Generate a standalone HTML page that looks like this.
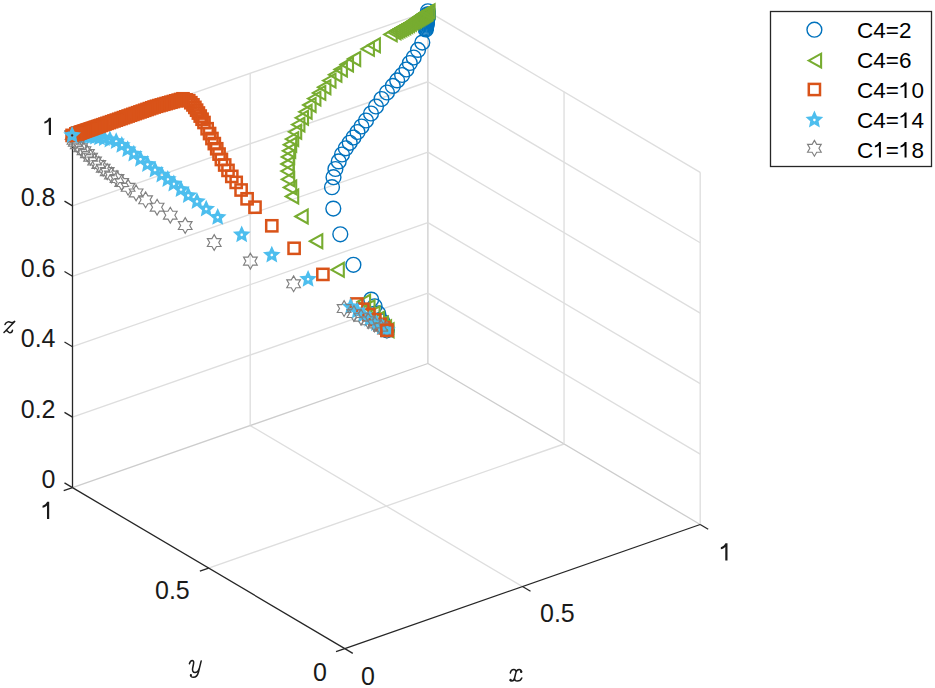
<!DOCTYPE html>
<html><head><meta charset="utf-8"><style>
html,body{margin:0;padding:0;background:#fff;}
body{width:935px;height:688px;overflow:hidden;}
svg{display:block;}
.g{stroke:#dedede;stroke-width:1.35;fill:none;}
.g2{stroke:#cdcdcd;stroke-width:1.3;fill:none;}
.a{stroke:#262626;stroke-width:1.3;fill:none;}
.t{font-family:"Liberation Sans",sans-serif;font-size:25px;fill:#1a1a1a;}
.l{font-family:"Liberation Sans",sans-serif;font-size:22.5px;fill:#000;}
.one{fill:#1a1a1a;}
.lone{fill:#000;}
.cm{fill:none;stroke:#1a1a1a;stroke-width:1.5;stroke-linecap:round;stroke-linejoin:round;}
.m{font-family:"Liberation Serif",serif;font-style:italic;font-size:26px;fill:#1a1a1a;}
</style></head><body>
<svg width="935" height="688" viewBox="0 0 935 688">
<line x1="522.5" y1="586.55" x2="250.2" y2="425.55" class="g"/>
<line x1="208.65" y1="568.1" x2="564.05" y2="444" class="g"/>
<line x1="700.2" y1="524.5" x2="427.9" y2="363.5" class="g2"/>
<line x1="72.5" y1="487.6" x2="427.9" y2="363.5" class="g2"/>
<line x1="427.9" y1="363.5" x2="427.9" y2="11.3" class="g2"/>
<line x1="72.5" y1="417.16" x2="427.9" y2="293.06" class="g"/>
<line x1="72.5" y1="346.72" x2="427.9" y2="222.62" class="g"/>
<line x1="72.5" y1="276.28" x2="427.9" y2="152.18" class="g"/>
<line x1="72.5" y1="205.84" x2="427.9" y2="81.74" class="g"/>
<line x1="72.5" y1="135.4" x2="427.9" y2="11.3" class="g"/>
<line x1="250.2" y1="425.55" x2="250.2" y2="73.35" class="g"/>
<line x1="700.2" y1="454.06" x2="427.9" y2="293.06" class="g"/>
<line x1="700.2" y1="383.62" x2="427.9" y2="222.62" class="g"/>
<line x1="700.2" y1="313.18" x2="427.9" y2="152.18" class="g"/>
<line x1="700.2" y1="242.74" x2="427.9" y2="81.74" class="g"/>
<line x1="700.2" y1="172.3" x2="427.9" y2="11.3" class="g"/>
<line x1="700.2" y1="524.5" x2="700.2" y2="172.3" class="g"/>
<line x1="564.05" y1="444" x2="564.05" y2="91.8" class="g"/>
<line x1="72.5" y1="487.6" x2="344.8" y2="648.6" class="a"/>
<line x1="344.8" y1="648.6" x2="700.2" y2="524.5" class="a"/>
<line x1="72.5" y1="487.6" x2="72.5" y2="135.4" class="a"/>
<line x1="344.8" y1="648.6" x2="352.81" y2="653.33" class="a"/>
<line x1="522.5" y1="586.55" x2="530.51" y2="591.28" class="a"/>
<line x1="700.2" y1="524.5" x2="708.21" y2="529.23" class="a"/>
<line x1="344.8" y1="648.6" x2="336.02" y2="651.67" class="a"/>
<line x1="208.65" y1="568.1" x2="199.87" y2="571.17" class="a"/>
<line x1="72.5" y1="487.6" x2="63.72" y2="490.67" class="a"/>
<line x1="72.5" y1="487.6" x2="64.49" y2="482.87" class="a"/>
<line x1="72.5" y1="417.16" x2="64.49" y2="412.43" class="a"/>
<line x1="72.5" y1="346.72" x2="64.49" y2="341.99" class="a"/>
<line x1="72.5" y1="276.28" x2="64.49" y2="271.55" class="a"/>
<line x1="72.5" y1="205.84" x2="64.49" y2="201.11" class="a"/>
<line x1="72.5" y1="135.4" x2="64.49" y2="130.67" class="a"/>
<text x="55.5" y="488.1" class="t" text-anchor="end">0</text>
<text x="55.5" y="417.66" class="t" text-anchor="end">0.2</text>
<text x="55.5" y="347.22" class="t" text-anchor="end">0.4</text>
<text x="55.5" y="276.78" class="t" text-anchor="end">0.6</text>
<text x="55.5" y="206.34" class="t" text-anchor="end">0.8</text>
<path class="one" transform="translate(42.5,134.9) scale(0.01221,-0.01221)" d="M515,0L515,1110C420,1020 290,960 150,925L150,1085C330,1140 450,1250 530,1409L696,1409L696,0Z"/>
<path class="one" transform="translate(40.7,519) scale(0.01221,-0.01221)" d="M515,0L515,1110C420,1020 290,960 150,925L150,1085C330,1140 450,1250 530,1409L696,1409L696,0Z"/>
<text x="155" y="599.4" class="t" text-anchor="start">0.5</text>
<text x="313" y="681.2" class="t" text-anchor="start">0</text>
<text x="361" y="684.5" class="t" text-anchor="start">0</text>
<text x="540" y="622.4" class="t" text-anchor="start">0.5</text>
<path class="one" transform="translate(719,560.5) scale(0.01221,-0.01221)" d="M515,0L515,1110C420,1020 290,960 150,925L150,1085C330,1140 450,1250 530,1409L696,1409L696,0Z"/>
<path class="cm" d="M189.4,663.7 C190,661.5 191,660.4 192.3,660.4 C193.8,660.5 193.9,662.3 193.5,664 L192.6,668.5 C192.2,670.8 193,672.6 195,672.6 C197,672.6 198.6,670.5 199.3,668.6 L201.2,660.9 M199.3,668.6 L198.5,672 C197.6,675.5 195.8,677.3 193.4,677.3 C192,677.3 190.8,676.7 190.6,675.5"/>
<circle cx="190.9" cy="675.2" r="1.1" fill="#1a1a1a"/>
<path class="cm" d="M510.3,673 C510.8,670.5 512.3,669.4 513.8,669.4 C515.5,669.4 516.2,670.8 515.9,672.5 L514.6,678 C514.2,679.8 513,681 511.7,681 C511,681 510.5,680.7 510.3,680.3 M521.3,671.9 C521.2,670.3 520.4,669.4 519.2,669.4 C517.6,669.4 516.3,670.7 515.9,672.5 M514.6,678 C514.4,679.8 515.4,681.1 517.2,681.1 C519.3,681.1 521.1,679.7 521.8,678"/>
<circle cx="510.6" cy="680" r="1.2" fill="#1a1a1a"/><circle cx="521.2" cy="671.8" r="1.2" fill="#1a1a1a"/>
<path class="cm" d="M5,324.5 C6,322 8.5,321.3 10.5,322.3 C12,323 13.5,322.5 14.7,321.4 L4,332.4 M5.8,330.6 C7.5,330 8.5,332.8 10,332.8 C11.5,332.8 12.3,331.5 12.5,330.2"/>
<defs>
<circle id="mc" cx="0" cy="0" r="7.4" fill="none" stroke="#0072BD" stroke-width="1.4"/>
<path id="mt" d="M-5.7,0 L6.7,-6.9 L6.7,6.9 Z" fill="none" stroke="#77AC30" stroke-width="2.1" stroke-linejoin="miter"/>
<rect id="mq" x="-5.6" y="-5.6" width="11.2" height="11.2" fill="none" stroke="#D95319" stroke-width="2.5"/>
<path id="mp" d="M0,-9.3 L2.57,-3.54 L8.84,-2.87 L4.16,1.35 L5.47,7.52 L0,4.37 L-5.47,7.52 L-4.16,1.35 L-8.84,-2.87 L-2.57,-3.54 Z M0,1.5 L-1.43,0.46 L-0.88,-1.21 L0.88,-1.21 L1.43,0.46 Z" fill="#4DBEEE" fill-rule="evenodd" stroke="none"/>
<path id="mh" d="M0,-7.9 L2.28,-3.95 L6.84,-3.95 L4.56,0 L6.84,3.95 L2.28,3.95 L0,7.9 L-2.28,3.95 L-6.84,3.95 L-4.56,0 L-6.84,-3.95 L-2.28,-3.95 Z" fill="none" stroke="#808080" stroke-width="1.15" stroke-linejoin="miter"/>
</defs>
<use href="#mc" x="386.9" y="330.3"/>
<use href="#mc" x="384.62" y="325.85"/>
<use href="#mc" x="382.35" y="321.4"/>
<use href="#mc" x="378.25" y="313.38"/>
<use href="#mc" x="374.61" y="306.26"/>
<use href="#mc" x="371.19" y="299.58"/>
<use href="#mt" x="386.9" y="330.3"/>
<use href="#mt" x="384.36" y="327.21"/>
<use href="#mt" x="381.18" y="323.35"/>
<use href="#mt" x="377.37" y="318.72"/>
<use href="#mt" x="372.92" y="313.31"/>
<use href="#mt" x="367.83" y="307.14"/>
<use href="#mt" x="363.39" y="301.73"/>
<use href="#mq" x="386.9" y="330.3"/>
<use href="#mq" x="383.89" y="327.67"/>
<use href="#mq" x="380.12" y="324.38"/>
<use href="#mq" x="374.85" y="319.77"/>
<use href="#mq" x="368.82" y="314.51"/>
<use href="#mq" x="362.8" y="309.25"/>
<use href="#mq" x="356.77" y="303.99"/>
<use href="#mp" x="386.9" y="330.3"/>
<use href="#mp" x="382.2" y="327.25"/>
<use href="#mp" x="376.41" y="323.5"/>
<use href="#mp" x="369.78" y="319.2"/>
<use href="#mp" x="363.41" y="315.07"/>
<use href="#mp" x="357.28" y="311.09"/>
<use href="#mp" x="350.65" y="306.8"/>
<use href="#mh" x="386.9" y="330.3"/>
<use href="#mh" x="380.66" y="327.13"/>
<use href="#mh" x="374.42" y="323.96"/>
<use href="#mh" x="368.18" y="320.79"/>
<use href="#mh" x="361.05" y="317.16"/>
<use href="#mh" x="353.91" y="313.54"/>
<use href="#mh" x="344.11" y="308.56"/>
<use href="#mq" x="386.9" y="330.3"/>
<use href="#mc" x="353.4" y="264.8"/>
<use href="#mc" x="340.3" y="234.3"/>
<use href="#mc" x="333.3" y="208.6"/>
<use href="#mc" x="332" y="187.2"/>
<use href="#mc" x="333.5" y="177.2"/>
<use href="#mc" x="335.4" y="169"/>
<use href="#mc" x="338.7" y="161.4"/>
<use href="#mc" x="342" y="154.5"/>
<use href="#mc" x="345.8" y="148.3"/>
<use href="#mc" x="349.7" y="142.8"/>
<use href="#mc" x="353.5" y="137.5"/>
<use href="#mc" x="357.5" y="132"/>
<use href="#mc" x="361.5" y="126.5"/>
<use href="#mc" x="366" y="120.5"/>
<use href="#mc" x="371" y="113.5"/>
<use href="#mc" x="376" y="106.5"/>
<use href="#mc" x="381.5" y="99"/>
<use href="#mc" x="387" y="92.5"/>
<use href="#mc" x="392.8" y="85.9"/>
<use href="#mc" x="397.2" y="80.4"/>
<use href="#mc" x="402.1" y="75"/>
<use href="#mc" x="406.4" y="69.5"/>
<use href="#mc" x="409.8" y="63"/>
<use href="#mc" x="413.7" y="57.5"/>
<use href="#mc" x="418" y="49.9"/>
<use href="#mc" x="422.3" y="42.6"/>
<use href="#mc" x="425.8" y="29.5"/>
<use href="#mc" x="425.98" y="28.21"/>
<use href="#mc" x="426.16" y="26.93"/>
<use href="#mc" x="426.34" y="25.68"/>
<use href="#mc" x="426.5" y="24.53"/>
<use href="#mc" x="426.65" y="23.48"/>
<use href="#mc" x="426.79" y="22.51"/>
<use href="#mc" x="426.91" y="21.61"/>
<use href="#mc" x="427.03" y="20.79"/>
<use href="#mc" x="427.12" y="20.04"/>
<use href="#mc" x="427.21" y="19.34"/>
<use href="#mc" x="427.29" y="18.7"/>
<use href="#mc" x="427.37" y="18.11"/>
<use href="#mc" x="427.44" y="17.57"/>
<use href="#mc" x="427.5" y="17.07"/>
<use href="#mc" x="427.56" y="16.61"/>
<use href="#mc" x="427.61" y="16.19"/>
<use href="#mc" x="427.66" y="15.8"/>
<use href="#mc" x="427.7" y="15.44"/>
<use href="#mc" x="427.72" y="15.11"/>
<use href="#mc" x="427.73" y="14.8"/>
<use href="#mc" x="427.75" y="14.52"/>
<use href="#mc" x="427.76" y="14.27"/>
<use href="#mc" x="427.9" y="11.3"/>
<use href="#mt" x="337.1" y="269.8"/>
<use href="#mt" x="315.6" y="241.2"/>
<use href="#mt" x="301" y="216.5"/>
<use href="#mt" x="291.5" y="196.5"/>
<use href="#mt" x="289.5" y="187.4"/>
<use href="#mt" x="287.5" y="179.3"/>
<use href="#mt" x="287" y="171.1"/>
<use href="#mt" x="287" y="164"/>
<use href="#mt" x="287.5" y="156.9"/>
<use href="#mt" x="288.5" y="150.8"/>
<use href="#mt" x="289.5" y="144.7"/>
<use href="#mt" x="291.5" y="139.1"/>
<use href="#mt" x="294.5" y="131.8"/>
<use href="#mt" x="297.7" y="124.6"/>
<use href="#mt" x="301.3" y="117.8"/>
<use href="#mt" x="304.9" y="111.8"/>
<use href="#mt" x="308.9" y="105"/>
<use href="#mt" x="313.7" y="98.6"/>
<use href="#mt" x="318.6" y="92.9"/>
<use href="#mt" x="323.7" y="87.2"/>
<use href="#mt" x="328.8" y="80.6"/>
<use href="#mt" x="334.7" y="74.7"/>
<use href="#mt" x="340.2" y="69.5"/>
<use href="#mt" x="346.3" y="64.5"/>
<use href="#mt" x="353.5" y="59"/>
<use href="#mt" x="367.2" y="48.9"/>
<use href="#mt" x="373.2" y="45.3"/>
<use href="#mt" x="390" y="34.4"/>
<use href="#mt" x="393.8" y="32.3"/>
<use href="#mt" x="395.75" y="31.29"/>
<use href="#mt" x="397.71" y="30.28"/>
<use href="#mt" x="399.66" y="29.26"/>
<use href="#mt" x="401.61" y="28.25"/>
<use href="#mt" x="403.57" y="27.24"/>
<use href="#mt" x="405.49" y="26.18"/>
<use href="#mt" x="407.33" y="24.97"/>
<use href="#mt" x="409.17" y="23.77"/>
<use href="#mt" x="411.02" y="22.57"/>
<use href="#mt" x="412.71" y="21.46"/>
<use href="#mt" x="414.24" y="20.46"/>
<use href="#mt" x="415.62" y="19.56"/>
<use href="#mt" x="416.86" y="18.75"/>
<use href="#mt" x="417.97" y="18.02"/>
<use href="#mt" x="418.97" y="17.35"/>
<use href="#mt" x="419.86" y="16.74"/>
<use href="#mt" x="420.66" y="16.2"/>
<use href="#mt" x="421.39" y="15.71"/>
<use href="#mt" x="422.04" y="15.27"/>
<use href="#mt" x="422.62" y="14.87"/>
<use href="#mt" x="423.15" y="14.51"/>
<use href="#mt" x="423.63" y="14.19"/>
<use href="#mt" x="424.05" y="13.9"/>
<use href="#mt" x="424.44" y="13.64"/>
<use href="#mt" x="424.78" y="13.41"/>
<use href="#mt" x="425.1" y="13.2"/>
<use href="#mt" x="425.38" y="13.01"/>
<use href="#mt" x="425.63" y="12.84"/>
<use href="#mt" x="425.86" y="12.68"/>
<use href="#mt" x="427.9" y="11.3"/>
<use href="#mp" x="308.1" y="279.2"/>
<use href="#mp" x="271.8" y="255"/>
<use href="#mp" x="241.7" y="234.7"/>
<use href="#mp" x="217.7" y="217.3"/>
<use href="#mp" x="206.2" y="209"/>
<use href="#mp" x="197" y="201.5"/>
<use href="#mp" x="188.3" y="195.5"/>
<use href="#mp" x="181" y="189.6"/>
<use href="#mp" x="173.8" y="183.9"/>
<use href="#mp" x="167.8" y="179.4"/>
<use href="#mp" x="161.8" y="175"/>
<use href="#mp" x="155" y="170"/>
<use href="#mp" x="147.5" y="164.4"/>
<use href="#mp" x="140.5" y="159.2"/>
<use href="#mp" x="133.8" y="154"/>
<use href="#mp" x="127.7" y="149.6"/>
<use href="#mp" x="121.8" y="145.3"/>
<use href="#mp" x="116.2" y="141.5"/>
<use href="#mp" x="109.91" y="139.87"/>
<use href="#mp" x="104.35" y="138.5"/>
<use href="#mp" x="99.54" y="137.73"/>
<use href="#mp" x="95.46" y="137.07"/>
<use href="#mp" x="91.99" y="136.52"/>
<use href="#mp" x="89.02" y="136.16"/>
<use href="#mp" x="86.48" y="136.04"/>
<use href="#mp" x="84.33" y="135.95"/>
<use href="#mp" x="82.49" y="135.86"/>
<use href="#mp" x="80.93" y="135.79"/>
<use href="#mp" x="79.61" y="135.74"/>
<use href="#mp" x="78.48" y="135.69"/>
<use href="#mp" x="77.53" y="135.64"/>
<use href="#mp" x="76.71" y="135.61"/>
<use href="#mp" x="76.02" y="135.58"/>
<use href="#mp" x="75.43" y="135.55"/>
<use href="#mp" x="74.93" y="135.53"/>
<use href="#mp" x="74.51" y="135.51"/>
<use href="#mp" x="74.15" y="135.49"/>
<use href="#mp" x="73.84" y="135.48"/>
<use href="#mp" x="73.58" y="135.47"/>
<use href="#mh" x="293.6" y="283.8"/>
<use href="#mh" x="250.4" y="261.1"/>
<use href="#mh" x="214.2" y="242.5"/>
<use href="#mh" x="185.2" y="225.5"/>
<use href="#mh" x="170.3" y="215.2"/>
<use href="#mh" x="157.1" y="207.2"/>
<use href="#mh" x="145.6" y="199.8"/>
<use href="#mh" x="136.1" y="192.9"/>
<use href="#mh" x="128.1" y="187.3"/>
<use href="#mh" x="121.7" y="182.5"/>
<use href="#mh" x="117" y="178.5"/>
<use href="#mh" x="111.4" y="175"/>
<use href="#mh" x="107.2" y="171.6"/>
<use href="#mh" x="103.2" y="168.2"/>
<use href="#mh" x="98.8" y="164.4"/>
<use href="#mh" x="94.6" y="161"/>
<use href="#mh" x="90.6" y="157.2"/>
<use href="#mh" x="87.4" y="153.6"/>
<use href="#mh" x="83.97" y="150.68"/>
<use href="#mh" x="80.58" y="147.72"/>
<use href="#mh" x="77.24" y="144.71"/>
<use href="#mh" x="75.25" y="142.17"/>
<use href="#mh" x="73.94" y="140.34"/>
<use href="#mh" x="72.1" y="135.4"/>
<use href="#mq" x="322.9" y="274.4"/>
<use href="#mq" x="294.1" y="248.3"/>
<use href="#mq" x="271.8" y="225.8"/>
<use href="#mq" x="255" y="207.2"/>
<use href="#mq" x="247.1" y="198.8"/>
<use href="#mq" x="241.1" y="190"/>
<use href="#mq" x="236.2" y="182.4"/>
<use href="#mq" x="231.8" y="176.4"/>
<use href="#mq" x="228" y="170.4"/>
<use href="#mq" x="224.7" y="165"/>
<use href="#mq" x="221.4" y="159.5"/>
<use href="#mq" x="219.06" y="154.08"/>
<use href="#mq" x="216.73" y="148.77"/>
<use href="#mq" x="214.32" y="143.61"/>
<use href="#mq" x="211.95" y="138.53"/>
<use href="#mq" x="209.58" y="133.56"/>
<use href="#mq" x="207.14" y="128.73"/>
<use href="#mq" x="204" y="122.5"/>
<use href="#mq" x="202.07" y="119.22"/>
<use href="#mq" x="200.22" y="116.07"/>
<use href="#mq" x="198.4" y="113.04"/>
<use href="#mq" x="196.6" y="110.16"/>
<use href="#mq" x="194.87" y="107.39"/>
<use href="#mq" x="192.95" y="104.9"/>
<use href="#mq" x="190.84" y="102.71"/>
<use href="#mq" x="188.74" y="100.71"/>
<use href="#mq" x="186.06" y="99.82"/>
<use href="#mq" x="183" y="98.8"/>
<use href="#mq" x="180.59" y="99.48"/>
<use href="#mq" x="178.19" y="100.16"/>
<use href="#mq" x="175.78" y="100.84"/>
<use href="#mq" x="173.38" y="101.52"/>
<use href="#mq" x="170.97" y="102.19"/>
<use href="#mq" x="168.56" y="102.87"/>
<use href="#mq" x="166.16" y="103.55"/>
<use href="#mq" x="163.75" y="104.23"/>
<use href="#mq" x="161.35" y="104.91"/>
<use href="#mq" x="158.94" y="105.59"/>
<use href="#mq" x="156.53" y="106.27"/>
<use href="#mq" x="154.14" y="107"/>
<use href="#mq" x="151.78" y="107.82"/>
<use href="#mq" x="149.42" y="108.64"/>
<use href="#mq" x="147.06" y="109.46"/>
<use href="#mq" x="144.7" y="110.28"/>
<use href="#mq" x="142.33" y="111.1"/>
<use href="#mq" x="139.97" y="111.92"/>
<use href="#mq" x="137.61" y="112.74"/>
<use href="#mq" x="135.25" y="113.56"/>
<use href="#mq" x="132.89" y="114.38"/>
<use href="#mq" x="130.53" y="115.2"/>
<use href="#mq" x="128.16" y="116.02"/>
<use href="#mq" x="125.8" y="116.84"/>
<use href="#mq" x="123.44" y="117.66"/>
<use href="#mq" x="121.08" y="118.48"/>
<use href="#mq" x="118.72" y="119.29"/>
<use href="#mq" x="116.35" y="120.11"/>
<use href="#mq" x="113.99" y="120.93"/>
<use href="#mq" x="111.63" y="121.74"/>
<use href="#mq" x="109.26" y="122.56"/>
<use href="#mq" x="107.03" y="123.33"/>
<use href="#mq" x="104.94" y="124.05"/>
<use href="#mq" x="102.97" y="124.73"/>
<use href="#mq" x="101.12" y="125.37"/>
<use href="#mq" x="99.38" y="125.98"/>
<use href="#mq" x="97.74" y="126.54"/>
<use href="#mq" x="96.2" y="127.07"/>
<use href="#mq" x="94.75" y="127.57"/>
<use href="#mq" x="93.4" y="128.04"/>
<use href="#mq" x="92.12" y="128.48"/>
<use href="#mq" x="90.92" y="128.9"/>
<use href="#mq" x="89.79" y="129.29"/>
<use href="#mq" x="88.73" y="129.66"/>
<use href="#mq" x="87.73" y="130"/>
<use href="#mq" x="86.79" y="130.32"/>
<use href="#mq" x="85.91" y="130.63"/>
<use href="#mq" x="85.08" y="130.91"/>
<use href="#mq" x="84.3" y="131.18"/>
<use href="#mq" x="83.57" y="131.44"/>
<use href="#mq" x="82.88" y="131.67"/>
<use href="#mq" x="82.23" y="131.9"/>
<use href="#mq" x="81.63" y="132.11"/>
<use href="#mq" x="81.06" y="132.31"/>
<use href="#mq" x="80.52" y="132.49"/>
<use href="#mq" x="80.01" y="132.67"/>
<use href="#mq" x="79.54" y="132.83"/>
<use href="#mq" x="79.09" y="132.98"/>
<use href="#mq" x="78.67" y="133.13"/>
<use href="#mq" x="78.28" y="133.27"/>
<use href="#mq" x="77.91" y="133.39"/>
<use href="#mq" x="77.56" y="133.51"/>
<use href="#mq" x="77.23" y="133.63"/>
<use href="#mq" x="76.92" y="133.73"/>
<use href="#mq" x="76.63" y="133.83"/>
<use href="#mq" x="76.36" y="133.93"/>
<use href="#mq" x="76.11" y="134.02"/>
<use href="#mq" x="75.87" y="134.1"/>
<use href="#mq" x="72.1" y="135.4"/>
<circle cx="72.3" cy="135.4" r="1.1" fill="#1a2a3a"/>
<use href="#mp" x="72.1" y="135.4"/>

<rect x="770.5" y="11.5" width="161" height="155" fill="#fff" stroke="#262626" stroke-width="1.3"/>
<use href="#mc" x="814.4" y="29.7"/>
<use href="#mt" x="814.4" y="60.6"/>
<use href="#mq" x="814.4" y="89.5"/>
<use href="#mp" x="814.4" y="119.9"/>
<use href="#mh" x="814.4" y="148.3"/>

<text x="857" y="38.4" class="l" text-anchor="start">C4=2</text>
<text x="857" y="68.3" class="l" text-anchor="start">C4=6</text>
<text x="857" y="98" class="l">C4=</text>
<path class="lone" transform="translate(898.9,98) scale(0.01099,-0.01099)" d="M515,0L515,1110C420,1020 290,960 150,925L150,1085C330,1140 450,1250 530,1409L696,1409L696,0Z"/>
<text x="911.42" y="98" class="l">0</text>
<text x="857" y="128" class="l">C4=</text>
<path class="lone" transform="translate(898.9,128) scale(0.01099,-0.01099)" d="M515,0L515,1110C420,1020 290,960 150,925L150,1085C330,1140 450,1250 530,1409L696,1409L696,0Z"/>
<text x="911.42" y="128" class="l">4</text>
<text x="857" y="157.6" class="l">C</text>
<path class="lone" transform="translate(873.25,157.6) scale(0.01099,-0.01099)" d="M515,0L515,1110C420,1020 290,960 150,925L150,1085C330,1140 450,1250 530,1409L696,1409L696,0Z"/>
<text x="885.76" y="157.6" class="l">=</text>
<path class="lone" transform="translate(898.9,157.6) scale(0.01099,-0.01099)" d="M515,0L515,1110C420,1020 290,960 150,925L150,1085C330,1140 450,1250 530,1409L696,1409L696,0Z"/>
<text x="911.42" y="157.6" class="l">8</text>
</svg></body></html>
